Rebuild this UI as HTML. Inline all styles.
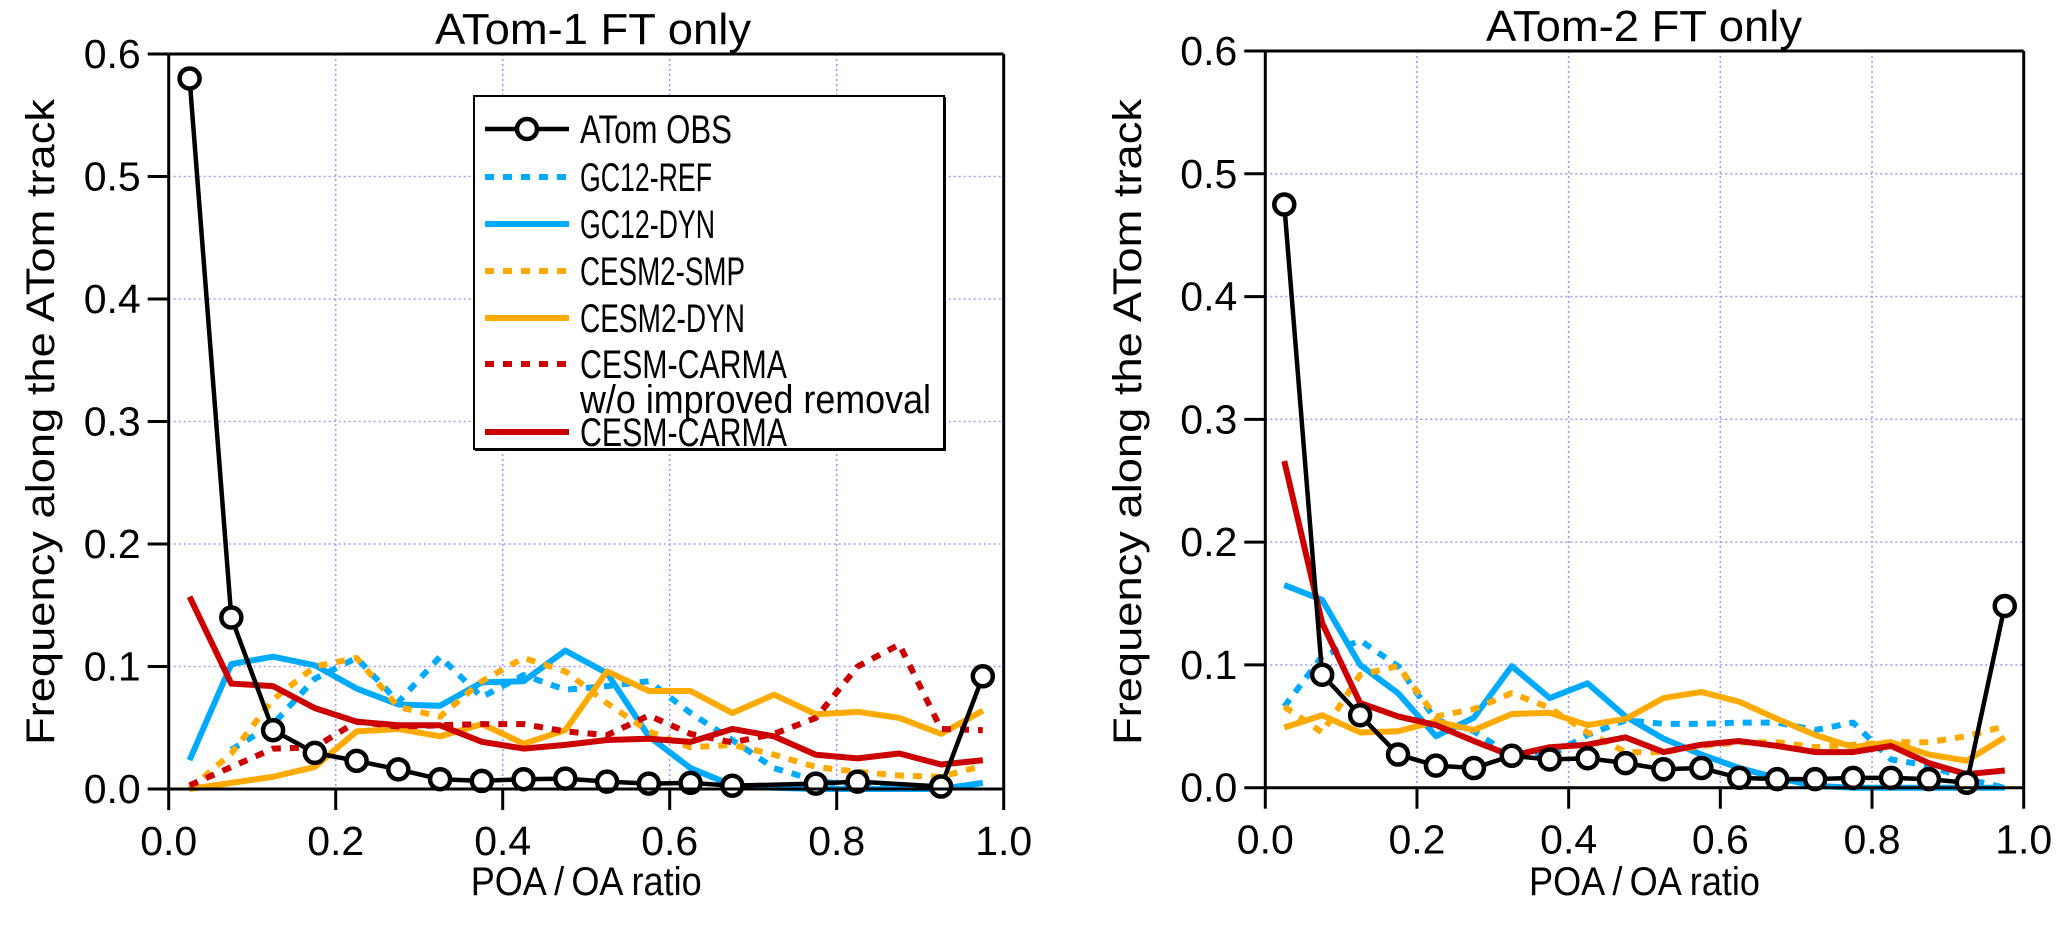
<!DOCTYPE html>
<html><head><meta charset="utf-8">
<style>
html,body{margin:0;padding:0;background:#fff;}
svg{display:block;font-family:"Liberation Sans",Arial,sans-serif;}
</style></head>
<body>
<svg id="chart" width="2067" height="941" viewBox="0 0 2067 941" xmlns="http://www.w3.org/2000/svg">
</svg>
<script>
// ---- data ----
const binCenters = [0.025,0.075,0.125,0.175,0.225,0.275,0.325,0.375,0.425,0.475,0.525,0.575,0.625,0.675,0.725,0.775,0.825,0.875,0.925,0.975];
const xTicks = [0.0,0.2,0.4,0.6,0.8,1.0];
const xTickLabels = ["0.0","0.2","0.4","0.6","0.8","1.0"];
const yTicks = [0.0,0.1,0.2,0.3,0.4,0.5,0.6];
const yTickLabels = ["0.0","0.1","0.2","0.3","0.4","0.5","0.6"];
const panelTitles = ["ATom-1 FT only","ATom-2 FT only"];

// ATom-1
const a1Obs = [0.58,0.140,0.048,0.0295,0.023,0.016,0.008,0.0066,0.008,0.0085,0.006,0.0044,0.005,0.0027,null,0.0044,0.006,null,0.002,0.092];
const a1GcRef = [null,0.032,0.053,0.09,0.107,0.071,0.108,0.075,0.093,0.081,0.084,0.088,0.062,0.040,0.017,0.007,0.002,0.0,0.0,0.005];
const a1GcDyn = [0.0235,0.102,0.108,0.101,0.082,0.069,0.068,0.087,0.088,0.113,0.0945,0.043,0.017,0.003,0.001,0.0,0.0,0.0,0.0,0.005];
const a1CesmSmp = [0.0,0.029,0.073,0.1,0.107,0.067,0.059,0.088,0.107,0.096,0.07,0.047,0.034,0.036,0.028,0.018,0.014,0.011,0.01,0.019];
const a1CesmDyn = [0.0,0.005,0.01,0.018,0.047,0.049,0.043,0.053,0.037,0.048,0.096,0.08,0.08,0.062,0.077,0.061,0.063,0.058,0.045,0.064];
const a1CarmaOld = [0.003,0.018,0.033,0.034,0.055,0.051,0.052,0.053,0.053,0.047,0.044,0.06,0.045,0.038,0.045,0.058,0.1,0.118,0.049,0.048];
const a1Carma = [0.157,0.086,0.084,0.066,0.055,0.052,0.052,0.0385,0.033,0.036,0.04,0.041,0.0385,0.049,0.043,0.028,0.025,0.029,0.02,0.0235];

// ATom-2
const a2Obs = [0.475,0.092,0.059,0.027,0.018,0.016,0.026,0.023,0.024,0.020,0.015,0.016,0.008,0.007,0.007,0.008,0.008,0.007,0.004,0.148];
const a2GcRef = [0.066,0.107,0.12,0.099,0.055,0.046,0.026,0.026,0.043,0.055,0.052,0.052,0.053,0.053,0.047,0.053,0.023,0.018,0.007,0.0];
const a2GcDyn = [0.165,0.153,0.1,0.077,0.042,0.057,0.099,0.073,0.085,0.058,0.040,0.027,0.016,0.008,0.0015,0.0,0.0,0.0,0.0,0.0];
const a2CesmSmp = [0.066,0.045,0.092,0.099,0.058,0.064,0.077,0.065,0.045,0.029,0.029,0.034,0.037,0.037,0.033,0.035,0.037,0.037,0.042,0.05];
const a2CesmDyn = [0.049,0.059,0.045,0.046,0.054,0.047,0.06,0.061,0.051,0.056,0.073,0.078,0.07,0.056,0.043,0.033,0.037,0.027,0.022,0.041];
const a2Carma = [0.266,0.134,0.069,0.058,0.051,0.038,0.026,0.033,0.035,0.041,0.029,0.035,0.038,0.034,0.029,0.029,0.034,0.02,0.011,0.014];

const legendLabels = ["ATom OBS","GC12-REF","GC12-DYN","CESM2-SMP","CESM2-DYN","CESM-CARMA","w/o improved removal","CESM-CARMA"];

// ---- drawing ----
const NS = "http://www.w3.org/2000/svg";
const svg = document.getElementById("chart");
const BLUE="#00aaff", ORANGE="#ffaa00", RED="#cc0000";
function mk(tag, attrs, parent){
  const e=document.createElementNS(NS,tag);
  for(const k in attrs) e.setAttribute(k,attrs[k]);
  (parent||svg).appendChild(e);
  return e;
}
const panels = [
  {x0:168.7, x1:1003.7, y0:789, y1:54, titleX:593, ylabX:40, name:"atom1"},
  {x0:1265.3, x1:2023.7, y0:787.7, y1:51, titleX:1644, ylabX:1127, name:"atom2"}
];

function drawPanel(p, idx, series){
  const g = mk("g",{});
  
  
  const xs = v => p.x0 + (p.x1-p.x0)*v;
  const ys = v => p.y0 + (p.y1-p.y0)*v/0.6;
  const grid = mk("g",{stroke:"#9c9cff","stroke-width":1.6,"stroke-dasharray":"2 3"},g);
  
  
  xTicks.forEach(t=>{ if(t>0 && t<1) mk("line",{x1:xs(t),x2:xs(t),y1:p.y1,y2:p.y0},grid); });
  yTicks.forEach(t=>{ if(t>0 && t<0.6) mk("line",{x1:p.x0,x2:p.x1,y1:ys(t),y2:ys(t)},grid); });
  series.forEach(s=>{
    const pts=[];
    s.data.forEach((v,i)=>{ if(v!==null) pts.push(xs(binCenters[i])+","+ys(v)); });
    const pl = mk("polyline",{points:pts.join(" "),fill:"none",stroke:s.color,"stroke-width":s.w,"stroke-linejoin":"round","stroke-dasharray":s.dash||"none"},g);
    
    
    if(s.markers){
      s.data.forEach((v,i)=>{
        if(v===null) return;
        const c = mk("circle",{cx:xs(binCenters[i]),cy:ys(v),r:10,fill:"#fff",stroke:"#000","stroke-width":4.5},g);
        
        
      });
    }
  });
  const ax = mk("g",{stroke:"#000","stroke-width":3,fill:"none"},g);
  
  
  mk("line",{x1:p.x0,x2:p.x0,y1:p.y1,y2:p.y0},ax);
  mk("line",{x1:p.x1,x2:p.x1,y1:p.y1,y2:p.y0},ax);
  mk("line",{x1:p.x0,x2:p.x1,y1:p.y1,y2:p.y1},ax);
  mk("line",{x1:p.x0,x2:p.x1,y1:p.y0,y2:p.y0},ax);
  xTicks.forEach((t,i)=>{
    mk("line",{x1:xs(t),x2:xs(t),y1:p.y0,y2:p.y0+21},ax);
    const tx = mk("text",{x:xs(t),y:p.y0+66,"font-size":41,"text-anchor":"middle",fill:"#000",stroke:"none"},g);
    tx.textContent = xTickLabels[i];
    
    
  });
  yTicks.forEach((t,i)=>{
    mk("line",{x1:p.x0-21,x2:p.x0,y1:ys(t),y2:ys(t)},ax);
    const ty = mk("text",{x:p.x0-28,y:ys(t)+14,"font-size":41,"text-anchor":"end",fill:"#000",stroke:"none"},g);
    ty.textContent = yTickLabels[i];
    
    
  });
  const title = mk("text",{x:p.titleX,y:p.y1-10,"font-size":44,"text-anchor":"middle",textLength:316,lengthAdjust:"spacingAndGlyphs"},g);
  title.textContent = panelTitles[idx];
  
  
  const xl = mk("text",{x:(p.x0+p.x1)/2,y:895,"font-size":40,"text-anchor":"middle",textLength:231,lengthAdjust:"spacingAndGlyphs"},g);
  xl.textContent = "POA\u2009/\u2009OA ratio";
  
  
  const yl = mk("text",{x:0,y:0,"font-size":40,"text-anchor":"middle",textLength:646,lengthAdjust:"spacingAndGlyphs",transform:"translate("+(p.ylabX+14)+",422) rotate(-90)"},g);
  yl.textContent = "Frequency along the ATom track";
  
  
}

const DOT = "9 9";
drawPanel(panels[0],0,[
  {key:"gc12-ref",data:a1GcRef,color:BLUE,w:6,dash:DOT},
  {key:"gc12-dyn",data:a1GcDyn,color:BLUE,w:6},
  {key:"cesm2-smp",data:a1CesmSmp,color:ORANGE,w:6,dash:DOT},
  {key:"cesm2-dyn",data:a1CesmDyn,color:ORANGE,w:6},
  {key:"cesm-carma-old",data:a1CarmaOld,color:RED,w:6,dash:DOT},
  {key:"cesm-carma",data:a1Carma,color:RED,w:6},
  {key:"atom-obs",data:a1Obs,color:"#000",w:4.5,markers:true}
]);
drawPanel(panels[1],1,[
  {key:"gc12-ref",data:a2GcRef,color:BLUE,w:6,dash:DOT},
  {key:"gc12-dyn",data:a2GcDyn,color:BLUE,w:6},
  {key:"cesm2-smp",data:a2CesmSmp,color:ORANGE,w:6,dash:DOT},
  {key:"cesm2-dyn",data:a2CesmDyn,color:ORANGE,w:6},
  {key:"cesm-carma",data:a2Carma,color:RED,w:6},
  {key:"atom-obs",data:a2Obs,color:"#000",w:4.5,markers:true}
]);

// legend
const lg = mk("g",{});


mk("rect",{x:475,y:97,width:471,height:354,fill:"#000"},lg);
mk("rect",{x:474,y:96,width:470,height:353,fill:"#fff",stroke:"#000","stroke-width":2},lg);
const legStyle = [
  {color:"#000",w:4.5,marker:true},
  {color:BLUE,w:6,dash:DOT},
  {color:BLUE,w:6},
  {color:ORANGE,w:6,dash:DOT},
  {color:ORANGE,w:6},
  {color:RED,w:6,dash:DOT},
  null,
  {color:RED,w:6}
];
const legY = [129,177,224,271,318,364,399,432];
const legW = [152,132,135,165,165,207,351,207];
legendLabels.forEach((lab,i)=>{
  const st = legStyle[i];
  if(st){
    const ln = mk("line",{x1:485,x2:569,y1:legY[i],y2:legY[i],stroke:st.color,"stroke-width":st.w,"stroke-dasharray":st.dash||"none"},lg);
    
    
    if(st.marker){
      const c = mk("circle",{cx:527,cy:legY[i],r:10,fill:"#fff",stroke:"#000","stroke-width":4.5},lg);
      
      
    }
  }
  const t = mk("text",{x:580,y:legY[i]+14,"font-size":40,textLength:legW[i],lengthAdjust:"spacingAndGlyphs"},lg);
  t.textContent = lab;
  
  
});
</script>
</body></html>
